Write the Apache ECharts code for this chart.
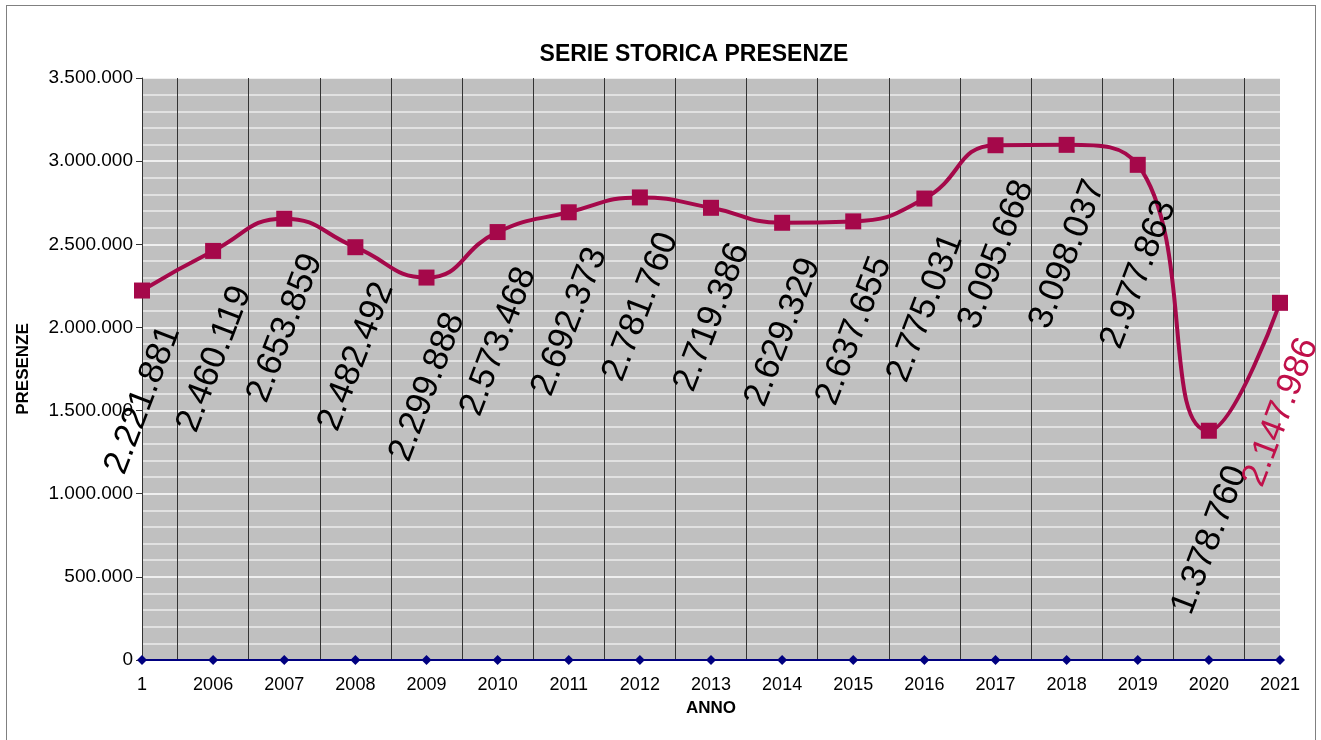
<!DOCTYPE html>
<html>
<head>
<meta charset="utf-8">
<script src="https://cdn.jsdelivr.net/npm/echarts@6/dist/echarts.min.js"></script>
<style>
  html, body { margin: 0; padding: 0; background: #fff; }
  #frame { position: absolute; left: 6px; top: 5px; width: 1308px; height: 760px; border: 1px solid #808080; }
  #chart { position: absolute; left: 0; top: 0; width: 1321px; height: 740px; }
</style>
</head>
<body>
<div id="frame"></div>
<div id="chart"></div>
<script>
const years = ['1', '2006', '2007', '2008', '2009', '2010', '2011', '2012', '2013',
  '2014', '2015', '2016', '2017', '2018', '2019', '2020', '2021']
const presenze = [2221881, 2460119, 2653859, 2482492, 2299888, 2573468, 2692373, 2781760,
  2719386, 2629329, 2637655, 2775031, 3095668, 3098037, 2977863, 1378760, 2147986]
const baseline = [0, 0, 0, 0, 0, 0, 0, 0, 0, 0, 0, 0, 0, 0, 0, 0, 0]

const fmt = v => String(v).replace(/\B(?=(\d{3})+(?!\d))/g, '.')

// half-step axis, used only to draw the vertical lines between years
const halfSteps = []
for (let i = 0; i < years.length * 2 - 1; i++) halfSteps.push('')

const chart = echarts.init(document.getElementById('chart'))

const lineData = presenze.map((v, i) => {
  const item = { value: v }
  if (i === presenze.length - 1) item.label = { color: '#c0104a' }
  return item
})

chart.setOption({
  animation: false,
  title: {
    text: 'SERIE STORICA PRESENZE',
    left: 689,
    top: 38,
    textAlign: 'center',
    textStyle: { fontFamily: 'Liberation Sans', fontSize: 23, fontWeight: 'bold', color: '#000' }
  },
  grid: {
    left: 142,
    right: 41,
    top: 78,
    bottom: 80,
    show: true,
    backgroundColor: '#c0c0c0',
    borderWidth: 0
  },
  xAxis: [
    {
      type: 'category',
      data: years,
      boundaryGap: false,
      name: 'ANNO',
      nameLocation: 'middle',
      nameGap: 40,
      nameTextStyle: { fontFamily: 'Liberation Sans', fontSize: 17, fontWeight: 'bold', color: '#000' },
      axisLine: { show: true, lineStyle: { color: '#000080', width: 2 } },
      axisTick: { show: false },
      axisLabel: { fontFamily: 'Liberation Sans', fontSize: 18, color: '#000', margin: 16 },
      splitLine: { show: false }
    },
    {
      type: 'category',
      data: halfSteps,
      boundaryGap: false,
      show: true,
      axisLine: { show: false },
      axisTick: { show: false },
      axisLabel: { show: false },
      splitLine: {
        show: true,
        interval: idx => idx % 2 === 1,
        lineStyle: { color: '#333', width: 1 }
      }
    }
  ],
  yAxis: {
    type: 'value',
    min: 0,
    max: 3500000,
    interval: 500000,
    name: 'PRESENZE',
    nameLocation: 'middle',
    nameGap: 110,
    nameTextStyle: { fontFamily: 'Liberation Sans', fontSize: 17, fontWeight: 'bold', color: '#000' },
    axisLine: { show: true, lineStyle: { color: '#333', width: 1 } },
    axisTick: { show: true, length: 6, lineStyle: { color: '#333' } },
    axisLabel: { fontFamily: 'Liberation Sans', fontSize: 19, color: '#000', margin: 9, formatter: fmt },
    splitLine: { show: true, lineStyle: { color: '#ffffff', width: 1.5 } },
    minorTick: { show: false, splitNumber: 5 },
    minorSplitLine: { show: true, lineStyle: { color: '#ececec', width: 1.5 } }
  },
  series: [
    {
      name: 'zero',
      type: 'line',
      data: baseline,
      symbol: 'diamond',
      symbolSize: 10,
      lineStyle: { color: '#000080', width: 2 },
      itemStyle: { color: '#000080' },
      z: 3
    },
    {
      name: 'PRESENZE',
      type: 'line',
      data: lineData,
      smooth: 0.5,
      symbol: 'rect',
      symbolSize: 16,
      lineStyle: { color: '#a5084a', width: 4 },
      itemStyle: { color: '#a5084a' },
      label: {
        show: true,
        position: 'inside',
        rotate: 69,
        align: 'right',
        verticalAlign: 'middle',
        offset: [-24, 40],
        fontFamily: 'Liberation Sans',
        fontSize: 35,
        color: '#000',
        formatter: p => fmt(p.value)
      },
      z: 4
    }
  ]
})
</script>
</body>
</html>
